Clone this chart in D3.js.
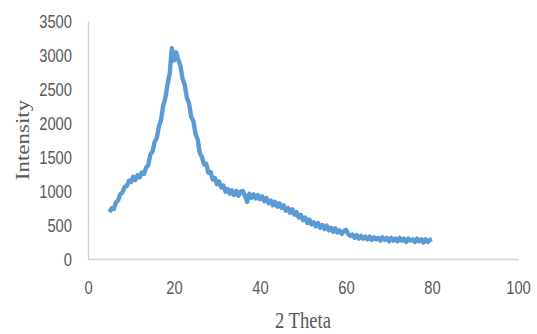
<!DOCTYPE html>
<html>
<head>
<meta charset="utf-8">
<script src="https://cdn.jsdelivr.net/npm/d3@7"></script>
<style>
  body { margin: 0; background: #fff; }
</style>
</head>
<body>
<div class="chart"></div>
<script>
var w = 537,
    h = 334;

// intensity, one value every 0.5 degree from 5 to 80
var thetaStart = 5,
    thetaStep = 0.5;
var intensity = [
  690, 745, 735, 830, 860, 955, 975, 1060, 1070, 1150,
  1130, 1210, 1160, 1230, 1200, 1270, 1250, 1340, 1380, 1540,
  1580, 1720, 1780, 1950, 2050, 2260, 2370, 2570, 2730, 3100,
  2920, 3040, 2930, 2840, 2650, 2560, 2370, 2290, 2090, 2030,
  1840, 1760, 1560, 1500, 1390, 1400, 1270, 1280, 1170, 1190,
  1100, 1140, 1050, 1080, 990, 1030, 960, 1010, 940, 1000,
  930, 990, 1000, 930, 840, 960, 900, 950, 890, 940,
  880, 920, 850, 900, 820, 860, 790, 840, 770, 820,
  750, 790, 710, 750, 680, 730, 650, 690, 610, 650,
  570, 610, 530, 580, 510, 540, 480, 530, 460, 500,
  440, 490, 420, 460, 400, 450, 390, 420, 370, 410,
  430, 370, 340, 360, 310, 350, 300, 340, 300, 330,
  290, 330, 280, 320, 290, 310, 270, 320, 280, 310,
  260, 310, 270, 300, 260, 310, 270, 300, 250, 300,
  270, 290, 250, 300, 260, 290, 240, 290, 250, 280,
  290
];

var xTicks = [0, 20, 40, 60, 80, 100];
var yTicks = [0, 500, 1000, 1500, 2000, 2500, 3000, 3500];

var data = intensity.map(function(v, i) {
  return { x: thetaStart + i * thetaStep, y: v };
});

var plotLeft = 88, plotRight = 518, plotTop = 21, plotBottom = 259;

var svg = d3.select(".chart").append("svg")
  .attr("width", w)
  .attr("height", h);

var x = d3.scaleLinear().domain([0, 100]).range([plotLeft, plotRight]);
var y = d3.scaleLinear().domain([0, 3500]).range([plotBottom, plotTop]);

// axes (no tick marks, light grey lines)
var xAxis = svg.append("g")
  .attr("transform", "translate(0," + plotBottom + ")")
  .call(d3.axisBottom(x).tickValues(xTicks).tickFormat(d3.format("d")).tickSize(0).tickPadding(0));
var yAxis = svg.append("g")
  .attr("transform", "translate(" + plotLeft + ",0)")
  .call(d3.axisLeft(y).tickValues(yTicks).tickFormat(d3.format("d")).tickSize(0).tickPadding(0));

[xAxis, yAxis].forEach(function(g) {
  g.select(".domain").attr("stroke", "#d0d0d0").attr("stroke-width", 1.4);
  g.selectAll("text")
    .attr("fill", "#595959")
    .style("font-family", "'Liberation Sans', Arial, sans-serif")
    .style("font-size", "18px");
});

xAxis.selectAll("text")
  .attr("y", 0)
  .attr("dy", 0)
  .attr("transform", "translate(0,35) scale(0.82,1)");
yAxis.selectAll("text")
  .attr("x", 0)
  .attr("dy", "0.35em")
  .attr("transform", "translate(-16,0) scale(0.82,1)");

// the pattern
var line = d3.line()
  .x(function(d) { return x(d.x); })
  .y(function(d) { return y(d.y); });

svg.append("path")
  .datum(data)
  .attr("d", line)
  .attr("fill", "none")
  .attr("stroke", "#5b9bd5")
  .attr("stroke-width", 4.4)
  .attr("stroke-linejoin", "round");

// axis titles
svg.append("text")
  .attr("transform", "translate(" + ((plotLeft + plotRight) / 2) + ",328) scale(0.81,1)")
  .attr("text-anchor", "middle")
  .attr("fill", "#595959")
  .style("font-family", "'Liberation Serif', 'Times New Roman', serif")
  .style("font-size", "23px")
  .text("2 Theta");

svg.append("text")
  .attr("transform", "translate(29," + ((plotTop + plotBottom) / 2) + ") scale(0.81,1) rotate(-90)")
  .attr("text-anchor", "middle")
  .attr("fill", "#595959")
  .style("font-family", "'Liberation Serif', 'Times New Roman', serif")
  .style("font-size", "23px")
  .text("Intensity");
</script>
</body>
</html>
